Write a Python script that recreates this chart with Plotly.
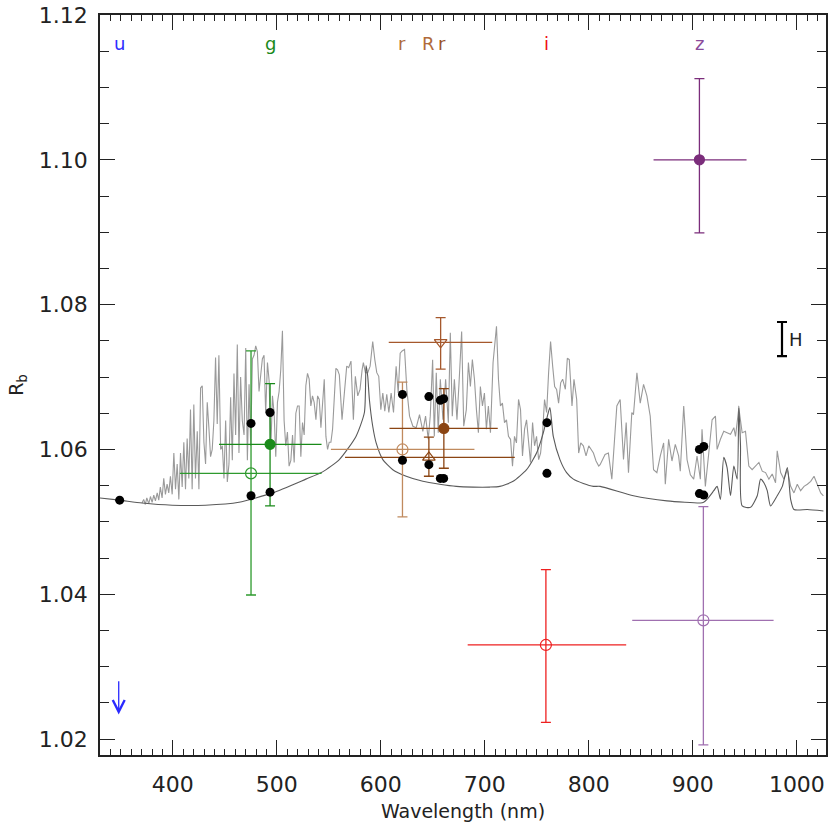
import plotly.graph_objects as go

# noisy spectrum (light grey)
spec_wl = [370.4, 372.0, 373.6, 375.0, 376.9, 378.5, 380.1, 381.7, 383.3, 385.0, 386.5, 388.0, 389.7,
           391.3, 392.9, 394.5, 396.1, 397.7, 399.4, 401.0, 402.6, 404.2, 405.8, 407.4, 409.0, 410.6,
           412.2, 413.8, 415.4, 417.0, 418.6, 420.2, 421.8, 423.5, 425.1, 426.7, 428.3, 429.9, 431.5,
           433.1, 434.7, 436.3, 437.9, 439.5, 441.1, 442.7, 444.3, 446.0, 447.6, 449.2, 450.8, 452.4,
           454.0, 455.6, 457.2, 458.8, 460.4, 462.0, 463.6, 465.2, 466.8, 468.5, 470.1, 471.7, 473.3,
           474.9, 476.5, 478.1, 479.7, 481.3, 482.9, 484.5, 486.1, 487.7, 489.3, 491.0, 492.6, 494.2,
           495.8, 497.4, 499.0, 500.6, 502.2, 503.8, 505.4, 507.0, 508.6, 510.2, 511.8, 513.5, 515.1,
           516.7, 518.3, 519.9, 521.5, 523.1, 524.7, 526.3, 527.9, 529.5, 531.1, 532.7, 534.3, 535.9,
           537.6, 539.2, 540.8, 542.4, 544.0, 545.6, 547.2, 548.8, 550.4, 552.0, 553.6, 555.2, 556.8,
           558.4,
           560.1, 562.7, 564.9, 567.2, 569.1, 571.3, 573.6, 575.5, 577.8, 580.0, 582.0, 583.2, 585.2,
           587.4, 589.7, 592.2, 594.2, 596.1, 598.0, 600.0, 601.9, 603.8, 605.7, 607.7, 609.9, 612.2,
           614.7, 616.7, 618.6, 620.5, 622.8, 625.0, 627.6, 630.8, 634.0, 637.2, 640.4, 643.0, 645.6,
           647.5, 649.8, 651.4, 653.3, 655.2, 657.2, 659.7, 662.3, 664.9, 666.8, 668.7, 670.7, 673.2,
           675.2, 677.7, 679.7, 682.2, 684.2, 686.1, 688.0, 690.0, 691.9, 693.8, 695.7, 697.7, 699.6,
           701.5, 703.4, 705.4, 707.9, 711.2, 713.1, 715.0, 716.9, 718.9, 720.8, 722.7, 724.7, 726.6,
           728.5, 730.4, 732.4, 734.3, 736.2, 738.2, 740.1, 742.0, 743.9, 745.9, 747.8, 749.7, 751.7,
           753.6, 755.5, 757.4, 759.4, 761.3, 763.2, 765.2, 767.1, 769.0, 770.9, 772.9, 774.8, 777.4,
           779.3, 781.2, 783.8, 785.7, 788.3, 790.2, 792.2, 794.7, 797.3, 799.9, 801.8, 804.4, 806.9,
           809.5,
           810.8, 815.6, 818.8, 822.1, 826.9, 830.1, 833.3, 835.9, 838.1, 841.3, 842.9, 846.2, 849.4,
           852.6, 855.8, 859.0, 862.2, 865.4, 868.7, 871.9, 873.5, 876.7, 879.9, 883.1, 886.3, 887.9,
           891.2, 894.4, 897.6, 900.8, 904.0, 907.2, 908.8, 912.0, 915.3, 918.5, 921.7, 923.3, 926.5,
           929.7, 932.9, 936.2, 939.4, 941.0, 944.2, 947.4, 950.6, 953.8, 957.0, 960.3, 963.5, 966.7,
           969.9, 973.1, 976.3, 979.5, 981.1, 984.4, 987.6, 990.8, 994.0, 997.2, 1000.4, 1003.6,
           1006.9, 1010.1, 1013.3, 1016.5, 1019.7, 1022.9, 1025.5]
spec_r = [1.0526, 1.0531, 1.0524, 1.0533, 1.0525, 1.0535, 1.0527, 1.0537, 1.0529, 1.0540, 1.0530, 1.0548, 1.0533,
          1.0560, 1.0538, 1.0552, 1.0540, 1.0563, 1.0538, 1.0595, 1.0545, 1.0580, 1.0531, 1.0595, 1.0548, 1.0610,
          1.0545, 1.0615, 1.0560, 1.0655, 1.0545, 1.0662, 1.0560, 1.0625, 1.0545, 1.0685, 1.0688, 1.0610, 1.0580,
          1.0665, 1.0630, 1.0590, 1.0600, 1.0640, 1.0727, 1.0635, 1.0730, 1.0600, 1.0605, 1.0560, 1.0640, 1.0555,
          1.0580, 1.0672, 1.0585, 1.0705, 1.0620, 1.0745, 1.0595, 1.0700, 1.0640, 1.0620, 1.0740, 1.0585, 1.0690,
          1.0605, 1.0725, 1.0730, 1.0743, 1.0735, 1.0680, 1.0700, 1.0725, 1.0730, 1.0650, 1.0720, 1.0695, 1.0600,
          1.0674, 1.0650, 1.0590, 1.0665, 1.0680, 1.0710, 1.0764, 1.0640, 1.0605, 1.0624, 1.0577, 1.0585, 1.0620,
          1.0582, 1.0650, 1.0660, 1.0660, 1.0590, 1.0637, 1.0620, 1.0688, 1.0705, 1.0697, 1.0660, 1.0674, 1.0665,
          1.0641, 1.0674, 1.0669, 1.0630, 1.0665, 1.0697, 1.0618, 1.0600, 1.0610, 1.0610, 1.0628, 1.0670, 1.0712,
          1.0710,
          1.0703, 1.0641, 1.0683, 1.0715, 1.0713, 1.0722, 1.0641, 1.0701, 1.0674, 1.0683, 1.0710, 1.0720, 1.0706,
          1.0706, 1.0715, 1.0749, 1.0724, 1.0706, 1.0701, 1.0655, 1.0678, 1.0653, 1.0676, 1.0651, 1.0678, 1.0651,
          1.0715, 1.0678, 1.0733, 1.0736, 1.0738, 1.0683, 1.0646, 1.0632, 1.0630, 1.0648, 1.0625, 1.0646, 1.0614,
          1.0646, 1.0724, 1.0618, 1.0706, 1.0623, 1.0697, 1.0641, 1.0697, 1.0637, 1.0761, 1.0646, 1.0697, 1.0641,
          1.0692, 1.0763, 1.0632, 1.0655, 1.0720, 1.0687, 1.0724, 1.0697, 1.0655, 1.0623, 1.0687, 1.0660, 1.0678,
          1.0628, 1.0660, 1.0623, 1.0720, 1.0770, 1.0697, 1.0660, 1.0664, 1.0637, 1.0641, 1.0618, 1.0614, 1.0577,
          1.0618, 1.0609, 1.0669, 1.0655, 1.0591, 1.0628, 1.0641, 1.0605, 1.0582, 1.0637, 1.0605, 1.0618, 1.0586,
          1.0595, 1.0623, 1.0669, 1.0651, 1.0706, 1.0749, 1.0715, 1.0687, 1.0683, 1.0664, 1.0692, 1.0697, 1.0683,
          1.0726, 1.0724, 1.0660, 1.0697, 1.0669, 1.0595, 1.0609, 1.0605, 1.0591, 1.0605, 1.0600, 1.0595, 1.0584,
          1.0577,
          1.0579, 1.0593, 1.0595, 1.0559, 1.0660, 1.0669, 1.0586, 1.0637, 1.0568, 1.0651, 1.0648, 1.0706, 1.0664,
          1.0690, 1.0674, 1.0646, 1.0572, 1.0568, 1.0591, 1.0609, 1.0552, 1.0614, 1.0584, 1.0607, 1.0591, 1.0570,
          1.0660, 1.0586, 1.0565, 1.0559, 1.0591, 1.0559, 1.0628, 1.0549, 1.0595, 1.0641, 1.0646, 1.0600, 1.0614,
          1.0625, 1.0623, 1.0621, 1.0630, 1.0618, 1.0657, 1.0623, 1.0625, 1.0577, 1.0572, 1.0577, 1.0582, 1.0570,
          1.0568, 1.0559, 1.0566, 1.0554, 1.0598, 1.0568, 1.0559, 1.0572, 1.0549, 1.0540, 1.0552, 1.0543,
          1.0549, 1.0552, 1.0556, 1.0563, 1.0552, 1.0540, 1.0536]

# model curve (dark grey)
model_wl = [329.6, 348.9, 370.4, 399.4, 431.5, 463.6, 495.8, 527.9, 544.0, 560.1, 576.1, 584.2, 585.8,
            587.4, 589.0, 592.2, 595.5, 601.9, 611.5, 624.4, 640.4, 656.5, 672.6, 688.7, 704.7, 714.4,
            727.2, 740.1, 749.7, 756.2, 761.0, 762.6, 765.8, 772.2, 778.6, 785.1, 794.7, 804.4, 810.8,
            842.9, 875.1, 907.2, 910.4, 913.6, 920.1, 923.3, 926.5, 929.7, 932.9, 936.2, 939.4, 942.6,
            944.2, 945.8, 947.4, 955.4, 961.9, 965.1, 968.3, 971.5, 974.7, 981.1, 986.0, 990.8, 994.0,
            997.2, 1010.1, 1025.5]
model_r = [1.0533, 1.0530, 1.0526, 1.0523, 1.0523, 1.0527, 1.0540, 1.0559, 1.0569, 1.0586, 1.0618, 1.0651, 1.0716,
           1.0701, 1.0669, 1.0632, 1.0609, 1.0586, 1.0572, 1.0563, 1.0556, 1.0552, 1.0549, 1.0548, 1.0548, 1.0549,
           1.0556, 1.0572, 1.0595, 1.0623, 1.0651, 1.0658, 1.0618, 1.0586, 1.0568, 1.0559, 1.0553, 1.0549, 1.0549,
           1.0536, 1.0529, 1.0526, 1.0527, 1.0531, 1.0543, 1.0549, 1.0531, 1.0589, 1.0575, 1.0536, 1.0577, 1.0559,
           1.0660, 1.0605, 1.0522, 1.0520, 1.0536, 1.0559, 1.0554, 1.0543, 1.0522, 1.0536, 1.0549, 1.0575, 1.0531,
           1.0517, 1.0517, 1.0515]

# individual measurements (black dots)
dot_wl = [348.9, 475.2, 475.2, 493.5, 493.5, 620.8, 620.8, 646.2, 646.2, 657.2, 660.4, 657.2, 660.4,
          759.7, 759.7, 906.3, 910.5, 906.3, 910.5]
dot_r = [1.0530, 1.0636, 1.0536, 1.0651, 1.0541, 1.0676, 1.0585, 1.0673, 1.0579, 1.0668, 1.0670, 1.0560, 1.0560,
         1.0637, 1.0567, 1.0600, 1.0604, 1.0539, 1.0537]

# band averages with error bars
bands = [
    # wl, r, r_hi, r_lo, wl_lo, wl_hi, symbol, color
    (475.2, 1.0567, 1.0736, 1.0399, 406.8, 543.0, "circle-open", "#2e9a2e"),
    (493.5, 1.0607, 1.0691, 1.0522, 444.4, 543.0, "circle", "#1a8a1a"),
    (620.8, 1.0600, 1.0693, 1.0507, 552.0, 690.0, "circle-open", "#c08a5e"),
    (646.2, 1.0589, 1.0617, 1.0563, 565.6, 728.8, "triangle-up-open", "#8b4513"),
    (660.6, 1.0629, 1.0684, 1.0574, 608.3, 712.4, "circle", "#8b4513"),
    (657.5, 1.0748, 1.0782, 1.0711, 607.6, 707.1, "triangle-down-open", "#a5582c"),
    (758.7, 1.0330, 1.0434, 1.0223, 683.5, 835.9, "circle-open", "#ee2020"),
    (906.3, 1.1000, 1.1112, 1.0899, 862.2, 951.6, "circle", "#7b2d7b"),
    (910.1, 1.0364, 1.0521, 1.0192, 841.7, 977.6, "circle-open", "#a070b0"),
]

band_names = ["u", "g", "r", "R", "r", "i", "z"]
band_wl = [348.9, 493.5, 620.8, 646.2, 659.0, 759.7, 906.3]
band_colors = ["#3030ff", "#1a8a1a", "#b06a3a", "#b06a3a", "#9a5228", "#ee1010", "#8a4a9a"]
label_r = 1.1161

fig = go.Figure()

fig.add_trace(go.Scatter(x=spec_wl, y=spec_r, mode="lines",
                         line=dict(color="#9a9a9a", width=1.1), hoverinfo="skip"))
fig.add_trace(go.Scatter(x=model_wl, y=model_r, mode="lines", line_shape="spline",
                         line=dict(color="#5a5a5a", width=1.1, smoothing=0.6), hoverinfo="skip"))

for wl, r, rhi, rlo, wlo, whi, sym, col in bands:
    fig.add_trace(go.Scatter(
        x=[wl], y=[r], mode="markers",
        marker=dict(symbol=sym, size=11 if "open" in sym else 10, color=col,
                    line=dict(color=col, width=1.2)),
        error_x=dict(type="data", symmetric=False, array=[whi - wl], arrayminus=[wl - wlo],
                     color=col, thickness=1.3, width=0),
        error_y=dict(type="data", symmetric=False, array=[rhi - r], arrayminus=[r - rlo],
                     color=col, thickness=1.3, width=5),
    ))

fig.add_trace(go.Scatter(x=dot_wl, y=dot_r, mode="markers",
                         marker=dict(symbol="circle", size=9, color="black")))

# "H" scale bar
h_wl = 985.7
h_r = 1.07525
h_err = 0.00235
fig.add_trace(go.Scatter(x=[h_wl], y=[h_r], mode="markers", marker=dict(size=1, color="black"),
                         error_y=dict(type="data", array=[h_err], color="black", thickness=2.2, width=5)))
fig.add_annotation(x=999.0, y=h_r, text="H", showarrow=False,
                   font=dict(family="DejaVu Sans", size=18, color="#222222"))

for name, wl, col in zip(band_names, band_wl, band_colors):
    fig.add_annotation(x=wl, y=label_r, text=name, showarrow=False,
                       font=dict(family="DejaVu Sans", size=18, color=col))

# u-band upper limit arrow
fig.add_annotation(x=348.0, y=1.0234, ax=348.0, ay=1.0282, xref="x", yref="y",
                   axref="x", ayref="y", text="", showarrow=True,
                   arrowhead=5, arrowsize=1.8, arrowwidth=1.3, arrowcolor="#2a2aff")

tick_font = dict(family="DejaVu Sans", size=22, color="#222222")
title_font = dict(family="DejaVu Sans", size=19, color="#222222")
fig.update_layout(
    width=830, height=830,
    margin=dict(l=100, r=4, t=15, b=75),
    plot_bgcolor="white", paper_bgcolor="white",
    showlegend=False,
    font=tick_font,
    xaxis=dict(range=[330, 1028], tickvals=[400, 500, 600, 700, 800, 900, 1000],
               ticks="inside", ticklen=15, tickwidth=1.2, tickcolor="#222222",
               minor=dict(dtick=10, tick0=0, ticks="inside", ticklen=6, tickcolor="#222222"),
               showline=True, linecolor="#222222", linewidth=1.5, mirror="ticks",
               showgrid=False, zeroline=False, tickfont=tick_font, automargin=False,
               ticklabelstandoff=9,
               title=dict(text="Wavelength (nm)", font=title_font, standoff=9)),
    yaxis=dict(range=[1.0178, 1.12], tickvals=[1.02, 1.04, 1.06, 1.08, 1.10, 1.12],
               ticktext=["1.02", "1.04", "1.06", "1.08", "1.10", "1.12"],
               ticks="inside", ticklen=15, tickwidth=1.2, tickcolor="#222222",
               minor=dict(dtick=0.005, tick0=0, ticks="inside", ticklen=9, tickcolor="#222222"),
               showline=True, linecolor="#222222", linewidth=1.5, mirror="ticks",
               showgrid=False, zeroline=False, tickfont=tick_font, automargin=False,
               ticklabelstandoff=6,
               title=dict(text="R<sub>b</sub>", font=title_font, standoff=10)),
)

# drop the default page margin so the figure fills the window exactly
fig.write_html("out.html", config={"displayModeBar": False},
               post_script="document.body.style.margin='0px';document.body.style.overflow='hidden';")
